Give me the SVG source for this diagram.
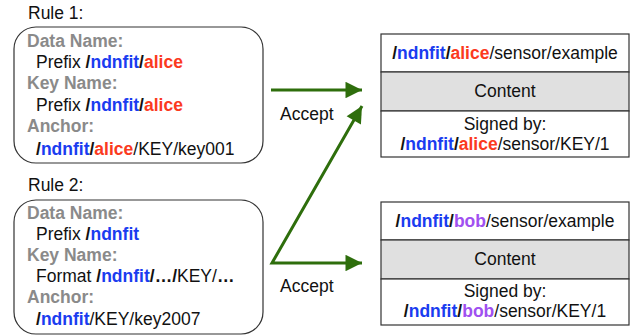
<svg xmlns="http://www.w3.org/2000/svg" width="639" height="335" viewBox="0 0 639 335">
<defs>
<style>
text{font-family:"Liberation Sans",Arial,sans-serif;font-size:17.5px;fill:#111}
.b{font-weight:bold}
.g{fill:#8a8a8a;font-weight:bold}
.bl{fill:#1a3cf0}
.rd{fill:#fb3a1e}
.pu{fill:#a050f0}
.rule{fill:#fff;stroke:#333;stroke-width:1.2}
.box{fill:#fff;stroke:#333;stroke-width:1.2}
.mid{fill:#e0e0e0;stroke:#333;stroke-width:1.2}
.c{text-anchor:middle}
.conn{stroke:#2e6e0c;stroke-width:3;fill:none}
</style>
<marker id="ah" viewBox="0 0 10 10" refX="10" refY="5" markerWidth="6.5" markerHeight="5.5" markerUnits="strokeWidth" orient="auto">
<path d="M0,0 L10,5 L0,10 Z" fill="#2e6e0c"/>
</marker>
</defs>

<g id="rule1">
<text x="28" y="19">Rule 1:</text>
<rect class="rule" x="14" y="27" width="249" height="136" rx="22"/>
<text x="27" y="47" class="g">Data Name:</text>
<text x="36" y="68">Prefix <tspan class="b">/</tspan><tspan class="b bl">ndnfit</tspan><tspan class="b">/</tspan><tspan class="b rd">alice</tspan></text>
<text x="27" y="89" class="g">Key Name:</text>
<text x="36" y="111">Prefix <tspan class="b">/</tspan><tspan class="b bl">ndnfit</tspan><tspan class="b">/</tspan><tspan class="b rd">alice</tspan></text>
<text x="27" y="132" class="g">Anchor:</text>
<text x="36" y="155"><tspan class="b">/</tspan><tspan class="b bl">ndnfit</tspan><tspan class="b">/</tspan><tspan class="b rd">alice</tspan>/KEY/key001</text>
</g>

<g id="rule2">
<text x="28" y="191">Rule 2:</text>
<rect class="rule" x="14" y="200" width="249" height="134" rx="22"/>
<text x="27" y="219" class="g">Data Name:</text>
<text x="36" y="240">Prefix <tspan class="b">/</tspan><tspan class="b bl">ndnfit</tspan></text>
<text x="27" y="261" class="g">Key Name:</text>
<text x="36" y="282">Format <tspan class="b">/</tspan><tspan class="b bl">ndnfit</tspan><tspan class="b">/…/</tspan>KEY/<tspan class="b">…</tspan></text>
<text x="27" y="303" class="g">Anchor:</text>
<text x="36" y="325"><tspan class="b">/</tspan><tspan class="b bl">ndnfit</tspan>/KEY/key2007</text>
</g>

<g id="data1">
<rect class="box" x="381" y="34" width="248" height="38"/>
<rect class="mid" x="381" y="72" width="248" height="39"/>
<rect class="box" x="381" y="111" width="248" height="46"/>
<text x="505" y="59" class="c"><tspan class="b">/</tspan><tspan class="b bl">ndnfit</tspan><tspan class="b">/</tspan><tspan class="b rd">alice</tspan>/sensor/example</text>
<text x="505" y="97" class="c">Content</text>
<text x="505" y="130" class="c">Signed by:</text>
<text x="505" y="150" class="c"><tspan class="b">/</tspan><tspan class="b bl">ndnfit</tspan><tspan class="b">/</tspan><tspan class="b rd">alice</tspan>/sensor/KEY/1</text>
</g>

<g id="data2">
<rect class="box" x="381" y="202" width="248" height="38"/>
<rect class="mid" x="381" y="240" width="248" height="39"/>
<rect class="box" x="381" y="279" width="248" height="46"/>
<text x="505" y="227" class="c"><tspan class="b">/</tspan><tspan class="b bl">ndnfit</tspan><tspan class="b">/</tspan><tspan class="b pu">bob</tspan>/sensor/example</text>
<text x="505" y="265" class="c">Content</text>
<text x="505" y="297" class="c">Signed by:</text>
<text x="505" y="317" class="c"><tspan class="b">/</tspan><tspan class="b bl">ndnfit</tspan><tspan class="b">/</tspan><tspan class="b pu">bob</tspan>/sensor/KEY/1</text>
</g>

<g id="connectors">
<line class="conn" x1="271" y1="90" x2="362" y2="90" marker-end="url(#ah)"/>
<polyline class="conn" points="362,106 272,263 362,263" stroke-linejoin="miter"/>
<line class="conn" x1="340" y1="144.3" x2="362" y2="106" marker-end="url(#ah)" stroke-opacity="0"/>
<line class="conn" x1="340" y1="263" x2="362" y2="263" marker-end="url(#ah)" stroke-opacity="0"/>
<text x="280" y="120">Accept</text>
<text x="280" y="292">Accept</text>
</g>
</svg>
